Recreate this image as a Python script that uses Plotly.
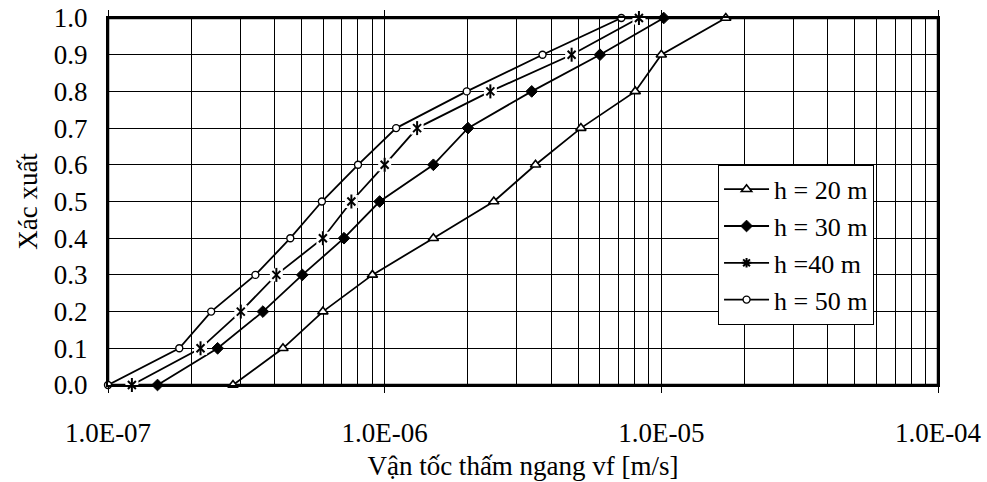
import plotly.graph_objects as go

prob = [0.0, 0.1, 0.2, 0.3, 0.4, 0.5, 0.6, 0.7, 0.8, 0.9, 1.0]
v20 = [2.83e-7, 4.29e-7, 5.98e-7, 9.03e-7, 1.50e-6, 2.48e-6, 3.51e-6, 5.12e-6, 8.05e-6, 1.00e-5, 1.71e-5]
v30 = [1.51e-7, 2.49e-7, 3.63e-7, 5.04e-7, 7.13e-7, 9.59e-7, 1.50e-6, 2.00e-6, 3.40e-6, 6.00e-6, 1.02e-5]
v40 = [1.22e-7, 2.16e-7, 3.02e-7, 4.06e-7, 5.98e-7, 7.58e-7, 1.00e-6, 1.31e-6, 2.41e-6, 4.74e-6, 8.30e-6]
v50 = [1.00e-7, 1.81e-7, 2.36e-7, 3.41e-7, 4.56e-7, 5.93e-7, 8.01e-7, 1.10e-6, 1.98e-6, 3.72e-6, 7.17e-6]
names = ["h = 20 m", "h = 30 m", "h =40 m", "h = 50 m"]

x_tickvals = [1e-7, 1e-6, 1e-5, 1e-4]
x_ticktext = ["1.0E-07", "1.0E-06", "1.0E-05", "1.0E-04"]
y_tickvals = [0.0, 0.1, 0.2, 0.3, 0.4, 0.5, 0.6, 0.7, 0.8, 0.9, 1.0]
y_ticktext = ["0.0", "0.1", "0.2", "0.3", "0.4", "0.5", "0.6", "0.7", "0.8", "0.9", "1.0"]
minor_vals = [m * 10.0 ** e for e in (-7, -6, -5) for m in range(2, 10)]

FONT = "Liberation Serif, Times New Roman, serif"
FS = 27
LW = 1.8
fig = go.Figure()

# h = 20 m
fig.add_trace(go.Scatter(x=v20, y=prob, mode="lines+markers", name=names[0], cliponaxis=False,
                         line=dict(color="black", width=LW),
                         marker=dict(symbol="triangle-up", size=9, color="white",
                                     line=dict(color="black", width=1.6))))
# h = 30 m
fig.add_trace(go.Scatter(x=v30, y=prob, mode="lines+markers", name=names[1], cliponaxis=False,
                         line=dict(color="black", width=LW),
                         marker=dict(symbol="diamond", size=9, color="black",
                                     line=dict(color="black", width=1))))
# h = 40 m (line, white gap, star made of x + vertical bar)
fig.add_trace(go.Scatter(x=v40, y=prob, mode="lines", showlegend=False, cliponaxis=False,
                         line=dict(color="black", width=LW), hoverinfo="skip"))
fig.add_trace(go.Scatter(x=v40, y=prob, mode="markers", showlegend=False, cliponaxis=False,
                         marker=dict(symbol="square", size=13, color="white",
                                     line=dict(width=0)), hoverinfo="skip"))
fig.add_trace(go.Scatter(x=v40, y=prob, mode="markers", showlegend=False, cliponaxis=False,
                         marker=dict(symbol="x-thin-open", size=8, color="black",
                                     line=dict(color="black", width=2))))
fig.add_trace(go.Scatter(x=v40, y=prob, mode="markers", showlegend=False, cliponaxis=False,
                         marker=dict(symbol="line-ns-open", size=10, color="black",
                                     line=dict(color="black", width=2)), hoverinfo="skip"))
fig.add_trace(go.Scatter(x=[None], y=[None], mode="lines+markers", name=names[2],
                         line=dict(color="black", width=LW),
                         marker=dict(symbol="asterisk-open", size=8, color="black",
                                     line=dict(color="black", width=2))))
# h = 50 m
fig.add_trace(go.Scatter(x=v50, y=prob, mode="lines+markers", name=names[3], cliponaxis=False,
                         line=dict(color="black", width=LW),
                         marker=dict(symbol="circle", size=7, color="white",
                                     line=dict(color="black", width=1.4))))

fig.update_layout(
    width=987, height=482,
    margin=dict(l=108, r=49, t=18, b=97, autoexpand=False),
    paper_bgcolor="white", plot_bgcolor="white",
    font=dict(family=FONT, size=FS, color="black"),
    showlegend=True,
    legend=dict(x=0.735, xanchor="left", y=0.60, yanchor="top",
                bgcolor="white", bordercolor="black", borderwidth=1,
                font=dict(family=FONT, size=26, color="black"),
                itemwidth=45, tracegroupgap=0),
    shapes=[dict(type="rect", xref="paper", yref="paper", x0=0, x1=1, y0=0, y1=1,
                 line=dict(color="black", width=2.5), fillcolor="rgba(0,0,0,0)",
                 layer="below")],
    xaxis=dict(type="log", range=[-7, -4], automargin=False,
               tickmode="array", tickvals=x_tickvals, ticktext=x_ticktext,
               ticks="outside", ticklen=6, tickcolor="black", tickwidth=1,
               ticklabelstandoff=17, ticklabeloverflow="allow",
               showgrid=True, gridcolor="black", gridwidth=1,
               minor=dict(tickmode="array", tickvals=minor_vals, showgrid=True,
                          gridcolor="black", gridwidth=1, ticks=""),
               showline=True, linecolor="black", linewidth=2, mirror="all",
               zeroline=False,
               title=dict(text="Vận tốc thấm ngang vf [m/s]", standoff=9,
                          font=dict(family=FONT, size=FS))),
    yaxis=dict(range=[0, 1], automargin=False,
               tickmode="array", tickvals=y_tickvals, ticktext=y_ticktext,
               ticks="", ticklabelstandoff=13, ticklabeloverflow="allow",
               showgrid=True, gridcolor="black", gridwidth=1,
               showline=True, linecolor="black", linewidth=2, mirror="all",
               zeroline=False,
               title=dict(text="Xác xuất", standoff=8,
                          font=dict(family=FONT, size=FS))),
)

fig.write_html("out.html", config={"displayModeBar": False},
               post_script="document.body.style.margin='0';")
